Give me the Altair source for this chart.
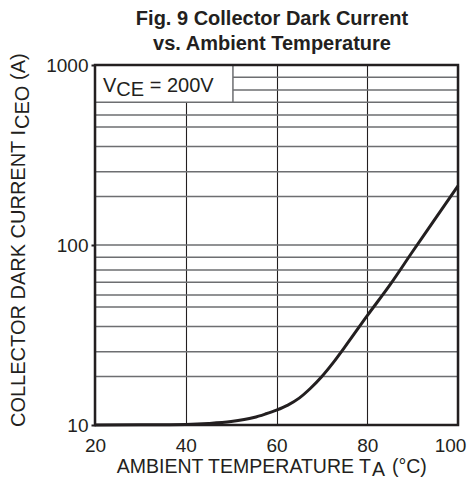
import altair as alt
import pandas as pd

# ---- data ----
temps = [20, 30, 40, 45, 50, 55, 57.5, 60, 62.5, 65, 67.5, 70, 72.5, 75, 80, 85, 90, 95, 100]
dark_current = [10.0, 10.02, 10.08, 10.2, 10.45, 11.0, 11.5, 12.1, 12.9, 14.1, 16.0, 18.6,
                22.2, 27.0, 40.5, 60, 92, 140, 213]

x_ticks = [20, 40, 60, 80, 100]
y_ticks = [10, 100, 1000]
grid_mult = [1.86, 2.55, 3.52, 4.53, 5.28, 6.21, 7.26, 8.54]
grid_values = [m * 10 for m in grid_mult] + [100] + [m * 100 for m in grid_mult]

# annotation box extent (data units)
box_x = [20, 50.4]
box_y = [621, 1000]

INK = "#231f20"
GRID = "#6d6e71"
FONT = "Liberation Sans"

curve_df = pd.DataFrame({"T": temps, "I": dark_current})
grid_df = pd.DataFrame({"g": grid_values})
box_df = pd.DataFrame({"x1": [box_x[0]], "x2": [box_x[1]], "y1": [box_y[0]], "y2": [box_y[1]]})
frame_df = pd.DataFrame({"x1": [20], "x2": [100], "y1": [10], "y2": [1000]})
one = pd.DataFrame({"a": [0]})

xscale = alt.Scale(domain=[20, 100], nice=False, zero=False)
yscale = alt.Scale(type="log", domain=[10, 1000], nice=False)

xaxis = alt.Axis(values=x_ticks, grid=True, gridColor=INK, gridWidth=1.1, title=None,
                 labelFontSize=19, labelFont=FONT, labelColor=INK, labelFlush=False,
                 labelBound=False, tickSize=0, labelPadding=11, domain=False,
                 labelOffset={"expr": "datum.value == 100 ? -8 : 0"})
yaxis = alt.Axis(values=y_ticks, grid=False, title=None, format="d",
                 labelFontSize=19, labelFont=FONT, labelColor=INK, labelOverlap=False,
                 tickSize=4, tickWidth=2, tickColor=INK, labelPadding=3, domain=False)

hgrid = alt.Chart(grid_df).mark_rule(color=GRID, strokeWidth=1.5).encode(
    y=alt.Y("g:Q", scale=yscale, axis=yaxis)
)

base_x = alt.Chart(curve_df).mark_line(opacity=0).encode(
    x=alt.X("T:Q", scale=xscale, axis=xaxis),
    y=alt.Y("I:Q", scale=yscale),
)

box = alt.Chart(box_df).mark_rect(fill="white", stroke=GRID, strokeWidth=1.5).encode(
    x=alt.X("x1:Q", scale=xscale), x2="x2:Q",
    y=alt.Y("y1:Q", scale=yscale), y2="y2:Q",
)

frame = alt.Chart(frame_df).mark_rect(fillOpacity=0, stroke=INK, strokeWidth=2.5).encode(
    x=alt.X("x1:Q", scale=xscale), x2="x2:Q",
    y=alt.Y("y1:Q", scale=yscale), y2="y2:Q",
)

curve = alt.Chart(curve_df).mark_line(color=INK, strokeWidth=3, interpolate="monotone").encode(
    x=alt.X("T:Q", scale=xscale),
    y=alt.Y("I:Q", scale=yscale),
)


def txt(s, x, y, size=20, weight="normal", align="left", angle=0):
    return alt.Chart(one).mark_text(
        text=s, fontSize=size, font=FONT, fontWeight=weight, color=INK,
        align=align, baseline="alphabetic", angle=angle,
    ).encode(x=alt.value(x), y=alt.value(y))


texts = [
    # title
    txt("Fig. 9 Collector Dark Current", 177, -40, weight="bold", align="center"),
    txt("vs. Ambient Temperature", 177, -15, weight="bold", align="center"),
    # annotation
    txt("V", 8, 27),
    txt("CE", 21.3, 31),
    txt("= 200V", 54.7, 27),
    # x title
    txt("AMBIENT TEMPERATURE T", 276, 408, size=19.5, align="right"),
    txt("A", 277, 411, size=19.5),
    txt("(°C)", 297, 408, size=19.5),
    # y title
    txt("COLLECTOR DARK CURRENT I", -70, 362, angle=270),
    txt("CEO", -66, 64, angle=270),
    txt("(A)", -70, 15, angle=270),
]

chart = alt.layer(hgrid, base_x, box, curve, frame, *texts).properties(
    width=363, height=360,
    autosize=alt.AutoSizeParams(type="none"),
    padding={"left": 87, "top": 57, "right": 9, "bottom": 56},
).configure_view(stroke="transparent")

chart.save("out.html", embed_options={"renderer": "svg", "actions": False})
